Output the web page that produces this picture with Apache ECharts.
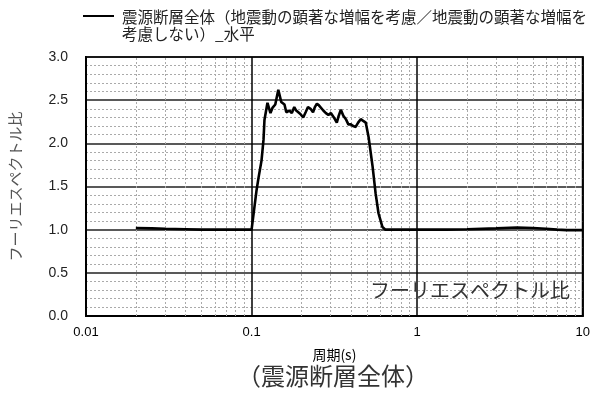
<!DOCTYPE html>
<html>
<head>
<meta charset="utf-8">
<script src="https://cdn.jsdelivr.net/npm/echarts@6/dist/echarts.min.js"></script>
<style>
html,body{margin:0;padding:0;background:#fff;}
#chart{width:593px;height:393px;}
</style>
</head>
<body>
<div id="chart"></div>
<script>
// ---- data ----
const periods = [0.02, 0.025, 0.03, 0.04, 0.05, 0.06, 0.08, 0.1, 0.1015, 0.1072, 0.1101, 0.1148, 0.118, 0.1196, 0.1247, 0.130, 0.1336, 0.139, 0.145, 0.151, 0.158, 0.162, 0.169, 0.175, 0.181, 0.186, 0.191, 0.197, 0.205, 0.212, 0.219, 0.227, 0.235, 0.241, 0.248, 0.255, 0.262, 0.271, 0.281, 0.291, 0.301, 0.314, 0.327, 0.336, 0.346, 0.358, 0.371, 0.384, 0.397, 0.411, 0.425, 0.44, 0.456, 0.472, 0.489, 0.509, 0.538, 0.561, 0.584, 0.617, 0.643, 0.7, 0.8, 1.0, 1.5, 2, 3, 4, 5, 6, 7, 8, 10];
const ratios = [1.02, 1.015, 1.01, 1.005, 1.0, 1.0, 1.0, 1.0, 1.0, 1.46, 1.6, 1.8, 2.04, 2.27, 2.47, 2.35, 2.41, 2.45, 2.62, 2.48, 2.45, 2.36, 2.38, 2.35, 2.42, 2.38, 2.36, 2.34, 2.30, 2.36, 2.42, 2.40, 2.36, 2.42, 2.46, 2.44, 2.42, 2.38, 2.35, 2.33, 2.35, 2.30, 2.24, 2.32, 2.39, 2.32, 2.28, 2.22, 2.22, 2.20, 2.19, 2.24, 2.28, 2.26, 2.24, 2.07, 1.73, 1.42, 1.19, 1.03, 1.0, 1.0, 1.0, 1.0, 1.0, 1.005, 1.015, 1.025, 1.02, 1.01, 1.0, 0.995, 0.995];
const minorPeriods = [0.02,0.03,0.04,0.05,0.06,0.07,0.08,0.09, 0.2,0.3,0.4,0.5,0.6,0.7,0.8,0.9, 2,3,4,5,6,7,8,9];
const seriesName = '震源断層全体（地震動の顕著な増幅を考慮／地震動の顕著な増幅を\n考慮しない）_水平';
const xAxisName = '周期(s)';
const yAxisName = 'フーリエスペクトル比';
const innerLabel = 'フーリエスペクトル比';
const caption = '（震源断層全体）';

const cjk = '"Noto Sans CJK JP", sans-serif';
const latin = '"Liberation Sans", Arial, sans-serif';

const chart = echarts.init(document.getElementById('chart'));
chart.setOption({
  animation: false,
  grid: { left: 83, right: 8, top: 57, bottom: 77, show: true, borderColor: '#000', borderWidth: 2, backgroundColor: 'transparent' },
  xAxis: {
    type: 'log', logBase: 10, min: 0.01, max: 10,
    name: xAxisName, nameLocation: 'middle', nameGap: 32,
    nameTextStyle: { fontFamily: cjk, fontSize: 14, color: '#000' },
    axisLine: { show: true, lineStyle: { color: '#000', width: 2 } },
    axisTick: { show: false },
    axisLabel: { fontFamily: latin, fontSize: 13, color: '#000', margin: 10,
      formatter: v => String(+v.toPrecision(3)) },
    splitLine: { show: true, lineStyle: { color: '#000', width: 1.5 } }
  },
  yAxis: {
    type: 'value', min: 0, max: 3, interval: 0.5,
    name: yAxisName, nameLocation: 'middle', nameGap: 63, nameRotate: 90,
    nameTextStyle: { fontFamily: cjk, fontSize: 15, color: '#555' },
    axisLine: { show: true, lineStyle: { color: '#000', width: 2 } },
    axisTick: { show: false },
    axisLabel: { fontFamily: latin, fontSize: 14, color: '#222', margin: 18, formatter: v => v.toFixed(1) },
    splitLine: { show: true, lineStyle: { color: '#222', width: 1.5 } },
    minorTick: { show: false, splitNumber: 5 },
    minorSplitLine: { show: true, lineStyle: { color: '#aaa', width: 1, type: [2, 2] } }
  },
  series: [{
    name: seriesName,
    type: 'line',
    data: periods.map((p, i) => [p, ratios[i]]),
    showSymbol: false,
    lineStyle: { color: '#000', width: 2.6 },
    itemStyle: { color: '#000' },
    z: 5,
    markLine: {
      silent: true, symbol: 'none', animation: false,
      label: { show: false },
      lineStyle: { color: '#aaa', width: 1, type: [2, 2] },
      data: minorPeriods.map(p => ({ xAxis: p }))
    }
  }],
  graphic: [
    { type: 'line', shape: { x1: 83, y1: 16, x2: 114, y2: 16 }, style: { stroke: '#000', lineWidth: 2 } },
    { type: 'text', left: 122, top: 9, style: { text: seriesName, font: '15.5px ' + cjk, fill: '#222', lineHeight: 17 } },
    { type: 'text', left: 370, top: 280, z: 10, style: { text: innerLabel, font: '20px ' + cjk, fill: '#333' } },
    { type: 'text', left: 237, top: 364, style: { text: caption, font: '24px ' + cjk, fill: '#333' } }
  ]
});
</script>
</body>
</html>
